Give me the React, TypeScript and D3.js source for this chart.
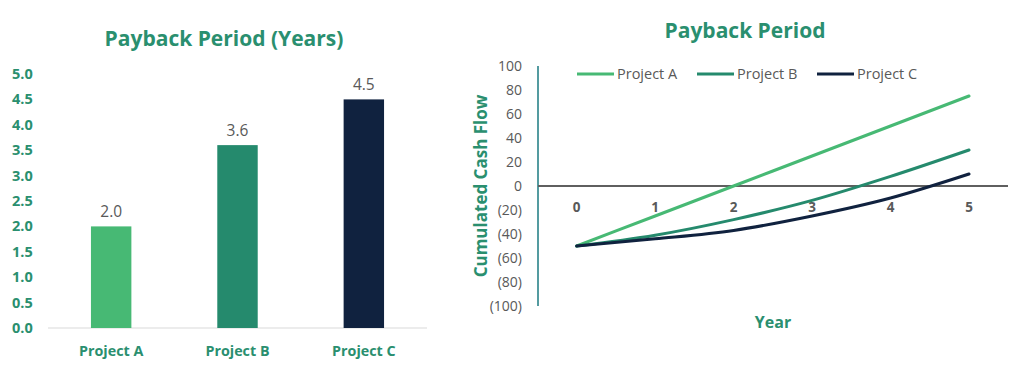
import React from "react";
import * as d3 from "d3";

const projects = ["Project A", "Project B", "Project C"];
const paybackYears = [2.0, 3.6, 4.5];
const barTicks = [0, 0.5, 1, 1.5, 2, 2.5, 3, 3.5, 4, 4.5, 5];

const years = [0, 1, 2, 3, 4, 5];
const cashA = [-50, -25, 0, 25, 50, 75];
const cashB = [-50, -41, -28, -12, 8, 30];
const cashC = [-50, -44, -37, -25, -10, 10];
const lineTicks = [-100, -80, -60, -40, -20, 0, 20, 40, 60, 80, 100];

const colors = ["#47b974", "#258a6d", "#10223f"];
const green = "#2a8f6f";
const gray = "#595959";
const font = "'Open Sans', 'Noto Sans', sans-serif";

export default function App() {
  // left bar chart
  const yB = d3.scaleLinear().domain([0, 5]).range([328, 74]);
  const xB = d3.scaleBand().domain(projects).range([48, 427]).paddingInner(0.68).paddingOuter(0.34);

  // right line chart
  const xL = d3.scalePoint<number>().domain(years).range([576.7, 969]);
  const yL = d3.scaleLinear().domain([-100, 100]).range([306, 66]);
  const series = [cashA, cashB, cashC];
  const line = d3
    .line<number>()
    .x((_, i) => xL(years[i]) as number)
    .y((d) => yL(d))
    .curve(d3.curveMonotoneX);

  const legendX = [577, 697, 817];

  return (
    <svg width={1024} height={380} style={{ position: "absolute", left: 0, top: 0, background: "#fff" }} fontFamily={font}>
      {/* Left chart */}
      <text x={224} y={46} textAnchor="middle" fontSize={21} fontWeight="bold" fill={green}>
        Payback Period (Years)
      </text>
      {barTicks.map((t) => (
        <text key={t} x={12} y={yB(t)} dy="0.35em" fontSize={14.5} fontWeight="bold" fill={green}>
          {t.toFixed(1)}
        </text>
      ))}
      <line x1={48} x2={427} y1={yB(0)} y2={yB(0)} stroke="#d9d9d9" strokeWidth={1} />
      {projects.map((p, i) => (
        <g key={p}>
          <rect x={xB(p)} y={yB(paybackYears[i])} width={xB.bandwidth()} height={yB(0) - yB(paybackYears[i])} fill={colors[i]} />
          <text x={(xB(p) as number) + xB.bandwidth() / 2} y={yB(paybackYears[i]) - 9} textAnchor="middle" fontSize={15.5} fill={gray}>
            {paybackYears[i].toFixed(1)}
          </text>
          <text x={(xB(p) as number) + xB.bandwidth() / 2} y={356} textAnchor="middle" fontSize={14.3} fontWeight="bold" fill={green}>
            {p}
          </text>
        </g>
      ))}

      {/* Right chart */}
      <text x={745} y={38} textAnchor="middle" fontSize={21} fontWeight="bold" fill={green}>
        Payback Period
      </text>
      {lineTicks.map((t) => (
        <text key={t} x={522} y={yL(t)} dy="0.35em" textAnchor="end" fontSize={14} fill={gray}>
          {t < 0 ? `(${Math.abs(t)})` : t}
        </text>
      ))}
      <line x1={538} x2={538} y1={yL(100)} y2={yL(-100)} stroke="#1b7a80" strokeWidth={1.5} />
      <line x1={538} x2={1008} y1={yL(0)} y2={yL(0)} stroke="#5f5f5f" strokeWidth={2} />
      {years.map((y) => (
        <text key={y} x={xL(y)} y={212} textAnchor="middle" fontSize={13.5} fontWeight="bold" fill={gray}>
          {y}
        </text>
      ))}
      {series.map((s, i) => (
        <path key={i} d={line(s) as string} fill="none" stroke={colors[i]} strokeWidth={3} strokeLinecap="round" />
      ))}
      {projects.map((p, i) => (
        <g key={p}>
          <line x1={legendX[i]} x2={legendX[i] + 37} y1={74} y2={74} stroke={colors[i]} strokeWidth={3} />
          <text x={legendX[i] + 40} y={74} dy="0.35em" fontSize={14.5} fill={gray}>
            {p}
          </text>
        </g>
      ))}
      <text transform={`translate(487,186) rotate(-90)`} textAnchor="middle" fontSize={17} fontWeight="bold" fill={green}>
        Cumulated Cash Flow
      </text>
      <text x={773} y={328} textAnchor="middle" fontSize={16} fontWeight="bold" fill={green}>
        Year
      </text>
    </svg>
  );
}
